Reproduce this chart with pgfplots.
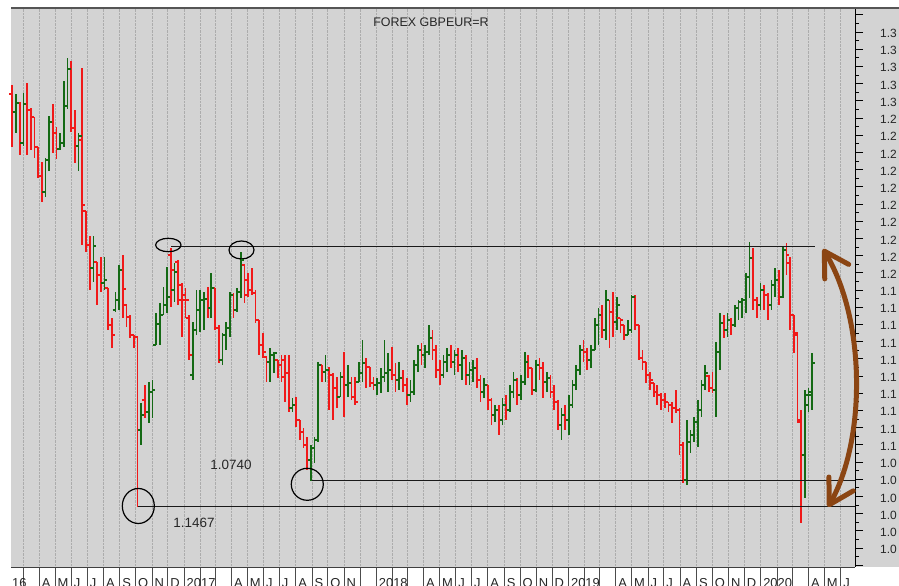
\documentclass[border=0pt]{standalone}
\usepackage{fontspec}
\setmainfont{Liberation Sans}
\usepackage{pgfplots}
\usepackage{pgfplotstable}
\pgfplotsset{compat=1.18}
\usetikzlibrary{arrows.meta,calc,backgrounds}
\definecolor{bgcol}{RGB}{211,211,211}
\definecolor{gridcol}{RGB}{172,172,172}
\definecolor{upcol}{RGB}{20,105,20}
\definecolor{dncol}{RGB}{240,25,25}
\definecolor{arrowcol}{RGB}{139,69,19}
\definecolor{toplinecol}{RGB}{85,85,85}
\pgfdeclareplotmark{ohlcL}{\pgfpathmoveto{\pgfqpoint{-3bp}{0bp}}\pgfpathlineto{\pgfqpoint{0bp}{0bp}}\pgfusepathqstroke}
\pgfdeclareplotmark{ohlcR}{\pgfpathmoveto{\pgfqpoint{0bp}{0bp}}\pgfpathlineto{\pgfqpoint{3bp}{0bp}}\pgfusepathqstroke}
% d = days since 10 Feb 2016 (weekly bars), o h l c
\pgfplotstableread{
d o h l c
0 1.3040 1.3092 1.2731 1.2935
7 1.2935 1.3040 1.2813 1.2987
14 1.2987 1.2993 1.2685 1.2755
21 1.2755 1.3045 1.2737 1.2981
28 1.2981 1.3104 1.2685 1.2946
35 1.2946 1.2958 1.2714 1.2906
42 1.2906 1.2906 1.2667 1.2731
49 1.2731 1.2731 1.2551 1.2563
56 1.2563 1.2644 1.2412 1.2470
63 1.2470 1.2667 1.2441 1.2656
70 1.2656 1.2912 1.2592 1.2877
77 1.2877 1.2981 1.2697 1.2813
84 1.2813 1.2848 1.2662 1.2720
91 1.2720 1.2813 1.2714 1.2755
98 1.2755 1.3115 1.2731 1.2970
105 1.2970 1.3249 1.2952 1.3185
112 1.3185 1.3231 1.2819 1.2842
119 1.2842 1.2946 1.2638 1.2737
126 1.2737 1.2813 1.2592 1.2795
133 1.2772 1.3191 1.2162 1.2394
140 1.2359 1.2359 1.2121 1.2162
147 1.2162 1.2214 1.1900 1.2028
154 1.2028 1.2214 1.1947 1.2156
161 1.2063 1.2063 1.1813 1.1987
168 1.1987 1.2092 1.1888 1.1941
175 1.1941 1.2092 1.1900 1.1958
182 1.1912 1.1912 1.1667 1.1696
189 1.1696 1.1737 1.1563 1.1638
196 1.1784 1.1888 1.1772 1.1842
203 1.1842 1.2045 1.1784 1.2016
210 1.2016 1.2103 1.1737 1.1906
217 1.1813 1.1813 1.1685 1.1743
224 1.1743 1.1755 1.1621 1.1638
231 1.1638 1.1638 1.1563 1.1627
238 1.1627 1.1627 1.0638 1.1086
245 1.1086 1.1243 1.0999 1.1173
252 1.1260 1.1348 1.1156 1.1191
259 1.1191 1.1365 1.1127 1.1307
266 1.1307 1.1377 1.1156 1.1319
273 1.1580 1.1766 1.1580 1.1702
280 1.1702 1.1824 1.1580 1.1755
287 1.1755 1.1917 1.1755 1.1813
294 1.1813 1.2034 1.1766 1.1859
301 1.2103 1.2144 1.1801 1.2016
308 1.1900 1.2057 1.1830 1.2005
315 1.2063 1.2074 1.1813 1.1842
322 1.1929 1.1941 1.1627 1.1842
329 1.1871 1.1912 1.1737 1.1842
336 1.1737 1.1755 1.1493 1.1522
343 1.1406 1.1714 1.1377 1.1667
350 1.1667 1.1900 1.1638 1.1784
357 1.1784 1.1900 1.1656 1.1842
364 1.1842 1.1888 1.1667 1.1848
371 1.1848 1.1917 1.1737 1.1795
378 1.1795 1.1999 1.1737 1.1912
385 1.1912 1.1912 1.1667 1.1679
392 1.1679 1.1696 1.1476 1.1493
399 1.1493 1.1650 1.1464 1.1638
406 1.1638 1.1714 1.1551 1.1679
413 1.1679 1.1888 1.1627 1.1871
420 1.1871 1.1883 1.1737 1.1784
427 1.1784 1.1912 1.1772 1.1888
434 1.1888 1.2121 1.1853 1.2074
441 1.2045 1.2045 1.1824 1.1871
448 1.1958 1.1999 1.1859 1.1900
455 1.1900 1.2028 1.1871 1.1883
462 1.1883 1.1900 1.1708 1.1726
469 1.1726 1.1726 1.1522 1.1580
476 1.1580 1.1650 1.1505 1.1540
483 1.1510 1.1510 1.1365 1.1481
490 1.1481 1.1563 1.1365 1.1522
497 1.1522 1.1540 1.1417 1.1534
504 1.1493 1.1493 1.1388 1.1464
511 1.1464 1.1522 1.1365 1.1394
518 1.1493 1.1522 1.1249 1.1417
525 1.1417 1.1522 1.1191 1.1214
532 1.1214 1.1272 1.1191 1.1231
539 1.1231 1.1278 1.1103 1.1144
546 1.1144 1.1144 1.1028 1.1074
553 1.1074 1.1098 1.0981 1.0999
560 1.0999 1.1045 1.0853 1.0912
567 1.0912 1.0999 1.0790 1.0981
574 1.0981 1.1045 1.0894 1.1028
581 1.1028 1.1481 1.1016 1.1464
588 1.1464 1.1464 1.1365 1.1423
595 1.1423 1.1522 1.1365 1.1435
602 1.1435 1.1452 1.1202 1.1406
609 1.1406 1.1417 1.1144 1.1330
616 1.1330 1.1394 1.1214 1.1278
623 1.1278 1.1423 1.1278 1.1394
630 1.1394 1.1540 1.1162 1.1348
637 1.1348 1.1464 1.1278 1.1359
644 1.1359 1.1394 1.1260 1.1278
651 1.1278 1.1394 1.1231 1.1249
658 1.1365 1.1481 1.1365 1.1417
665 1.1417 1.1609 1.1365 1.1476
672 1.1476 1.1505 1.1330 1.1452
679 1.1452 1.1452 1.1336 1.1359
686 1.1359 1.1394 1.1319 1.1348
693 1.1348 1.1388 1.1289 1.1359
700 1.1359 1.1446 1.1301 1.1394
707 1.1394 1.1609 1.1365 1.1417
714 1.1417 1.1534 1.1307 1.1435
721 1.1435 1.1569 1.1377 1.1406
728 1.1406 1.1476 1.1307 1.1377
735 1.1377 1.1481 1.1319 1.1388
742 1.1388 1.1435 1.1307 1.1348
749 1.1348 1.1388 1.1231 1.1289
756 1.1289 1.1377 1.1249 1.1307
763 1.1307 1.1493 1.1289 1.1464
770 1.1464 1.1580 1.1423 1.1551
777 1.1551 1.1592 1.1464 1.1522
784 1.1522 1.1580 1.1446 1.1540
791 1.1540 1.1696 1.1522 1.1621
798 1.1621 1.1667 1.1493 1.1551
805 1.1551 1.1580 1.1388 1.1435
812 1.1435 1.1493 1.1348 1.1406
819 1.1406 1.1522 1.1388 1.1481
826 1.1481 1.1563 1.1423 1.1522
833 1.1522 1.1580 1.1446 1.1481
840 1.1481 1.1551 1.1406 1.1522
847 1.1522 1.1563 1.1423 1.1464
854 1.1464 1.1551 1.1377 1.1505
861 1.1505 1.1522 1.1348 1.1406
868 1.1406 1.1481 1.1348 1.1435
875 1.1435 1.1493 1.1365 1.1446
882 1.1446 1.1505 1.1330 1.1377
889 1.1377 1.1406 1.1249 1.1307
896 1.1307 1.1388 1.1272 1.1348
903 1.1348 1.1348 1.1202 1.1260
910 1.1260 1.1272 1.1115 1.1173
917 1.1173 1.1231 1.1133 1.1202
924 1.1202 1.1231 1.1057 1.1144
931 1.1144 1.1272 1.1115 1.1231
938 1.1231 1.1289 1.1144 1.1202
945 1.1202 1.1348 1.1191 1.1307
952 1.1307 1.1423 1.1272 1.1377
959 1.1377 1.1388 1.1231 1.1289
966 1.1289 1.1406 1.1260 1.1365
973 1.1365 1.1540 1.1348 1.1481
980 1.1481 1.1522 1.1388 1.1446
987 1.1446 1.1446 1.1289 1.1319
994 1.1319 1.1493 1.1307 1.1464
1001 1.1464 1.1505 1.1377 1.1446
1008 1.1446 1.1481 1.1272 1.1365
1015 1.1365 1.1423 1.1307 1.1388
1022 1.1388 1.1406 1.1272 1.1307
1029 1.1307 1.1348 1.1202 1.1249
1036 1.1249 1.1260 1.1086 1.1115
1043 1.1115 1.1214 1.1028 1.1173
1050 1.1173 1.1231 1.1086 1.1144
1057 1.1144 1.1289 1.1057 1.1231
1064 1.1231 1.1377 1.1214 1.1348
1071 1.1348 1.1464 1.1319 1.1435
1078 1.1435 1.1580 1.1406 1.1551
1085 1.1551 1.1609 1.1481 1.1540
1092 1.1540 1.1563 1.1435 1.1493
1099 1.1493 1.1580 1.1446 1.1551
1106 1.1551 1.1737 1.1551 1.1696
1113 1.1696 1.1795 1.1580 1.1755
1120 1.1755 1.1813 1.1621 1.1667
1127 1.1667 1.1900 1.1609 1.1842
1134 1.1842 1.1842 1.1563 1.1772
1141 1.1772 1.1888 1.1627 1.1714
1148 1.1714 1.1859 1.1667 1.1813
1155 1.1737 1.1737 1.1650 1.1726
1162 1.1696 1.1696 1.1609 1.1638
1169 1.1638 1.1726 1.1638 1.1667
1176 1.1667 1.1871 1.1650 1.1859
1183 1.1859 1.1871 1.1667 1.1696
1190 1.1696 1.1696 1.1493 1.1505
1197 1.1505 1.1551 1.1435 1.1481
1204 1.1481 1.1481 1.1359 1.1406
1211 1.1406 1.1423 1.1319 1.1377
1218 1.1359 1.1359 1.1278 1.1307
1225 1.1307 1.1348 1.1231 1.1289
1232 1.1289 1.1301 1.1202 1.1260
1239 1.1260 1.1301 1.1214 1.1249
1246 1.1249 1.1249 1.1191 1.1231
1253 1.1231 1.1249 1.1127 1.1214
1260 1.1214 1.1319 1.1185 1.1202
1267 1.1202 1.1214 1.0941 1.0999
1274 1.0999 1.1016 1.0778 1.0795
1281 1.0795 1.1144 1.0766 1.1016
1288 1.1016 1.1086 1.0952 1.1057
1295 1.1057 1.1162 1.1016 1.1133
1302 1.1133 1.1260 1.0987 1.1202
1309 1.1202 1.1377 1.1162 1.1348
1316 1.1348 1.1464 1.1319 1.1417
1323 1.1400 1.1406 1.1307 1.1330
1330 1.1330 1.1423 1.1301 1.1319
1337 1.1319 1.1598 1.1162 1.1540
1344 1.1540 1.1766 1.1435 1.1708
1351 1.1708 1.1755 1.1621 1.1667
1358 1.1667 1.1766 1.1627 1.1726
1365 1.1726 1.1737 1.1638 1.1696
1372 1.1696 1.1813 1.1685 1.1795
1379 1.1795 1.1842 1.1726 1.1830
1386 1.1830 1.1853 1.1737 1.1842
1393 1.1842 1.1999 1.1766 1.1976
1400 1.1976 1.2179 1.1853 1.2086
1407 1.2086 1.2144 1.1784 1.1842
1414 1.1842 1.1859 1.1737 1.1813
1421 1.1813 1.1941 1.1784 1.1900
1428 1.1900 1.1929 1.1784 1.1871
1435 1.1871 1.1883 1.1726 1.1813
1442 1.1813 1.1958 1.1784 1.1929
1449 1.1929 1.2028 1.1859 1.1958
1456 1.1958 1.2016 1.1813 1.1859
1463 1.1859 1.2150 1.1853 1.2132
1470 1.2132 1.2173 1.1987 1.2103
1477 1.2057 1.2092 1.1667 1.1755
1484 1.1755 1.1755 1.1534 1.1638
1491 1.1650 1.1656 1.1127 1.1144
1498 1.1133 1.1202 1.0545 1.0941
1505 1.0941 1.1319 1.0691 1.1289
1512 1.1231 1.1330 1.1191 1.1307
1519 1.1289 1.1534 1.1202 1.1476
}\ohlc
\begin{document}
\begin{tikzpicture}[x=1bp,y=1bp]
\begin{axis}[
  width=844bp, height=559bp, scale only axis,
  xmin=-2.47, xmax=1600.4, ymin=1.02895, ymax=1.35395,
  axis background/.style={fill=bgcol},
  axis x line*=bottom, axis y line*=right,
  x axis line style={draw=black!75, line width=0.8bp},
  y axis line style={draw=black, line width=1bp},
  clip=false,
  tick align=outside,
  xtick={20,51,81,112,142,173,204,234,265,295,326,357,385,416,446,477,507,538,569,599,630,660,691,722,750,781,811,842,872,903,934,964,995,1025,1056,1087,1115,1146,1176,1207,1237,1268,1299,1329,1360,1390,1421,1452,1481,1512,1542,1573},
  xticklabels={,A,M,J,J,A,S,O,N,D,2017,,,A,M,J,J,A,S,O,N,,2018,,,A,M,J,J,A,S,O,N,D,2019,,,A,M,J,J,A,S,O,N,D,2020,,,A,M,J},
  xtick style={draw=black!70, line width=0.6bp, /pgfplots/major tick length=20bp},
  xmajorgrids, grid style={densely dotted, gridcol, line width=0.6bp},
  xticklabel style={anchor=base west, inner sep=0pt, xshift=2.5bp, yshift=-12.5bp, font=\fontsize{13}{13}\selectfont, text=black!85},
  ytick={1.03,1.04,1.05,1.06,1.07,1.08,1.09,1.10,1.11,1.12,1.13,1.14,1.15,1.16,1.17,1.18,1.19,1.20,1.21,1.22,1.23,1.24,1.25,1.26,1.27,1.28,1.29,1.30,1.31,1.32,1.33,1.34,1.35},
  yticklabels={,1.0,1.0,1.0,1.0,1.0,1.0,1.1,1.1,1.1,1.1,1.1,1.1,1.1,1.1,1.1,1.1,1.2,1.2,1.2,1.2,1.2,1.2,1.2,1.2,1.2,1.2,1.3,1.3,1.3,1.3,1.3,},
  minor y tick num=1,
  ytick style={draw=black, line width=0.8bp},
  major tick length=8bp, minor tick length=4bp,
  yticklabel style={anchor=west, inner sep=0pt, xshift=17bp, yshift=-1.5bp, font=\fontsize{12}{12}\selectfont, text=black!85},
]
% down bars
\addplot[dncol, line width=1.6bp, only marks, mark=ohlcR, mark options={line width=1.4bp},
  error bars/.cd, y dir=both, y explicit, error mark=none, error bar style={line width=1.7bp, dncol}]
  table[x=d, y expr={\thisrow{c}<\thisrow{o} ? \thisrow{c} : nan},
        y error plus expr=\thisrow{h}-\thisrow{c}, y error minus expr=\thisrow{c}-\thisrow{l}] {\ohlc};
\addplot[dncol, only marks, mark=ohlcL, mark options={line width=1.4bp}]
  table[x=d, y expr={\thisrow{c}<\thisrow{o} ? \thisrow{o} : nan}] {\ohlc};
% up bars
\addplot[upcol, line width=1.6bp, only marks, mark=ohlcR, mark options={line width=1.4bp},
  error bars/.cd, y dir=both, y explicit, error mark=none, error bar style={line width=1.7bp, upcol}]
  table[x=d, y expr={\thisrow{c}<\thisrow{o} ? nan : \thisrow{c}},
        y error plus expr=\thisrow{h}-\thisrow{c}, y error minus expr=\thisrow{c}-\thisrow{l}] {\ohlc};
\addplot[upcol, only marks, mark=ohlcL, mark options={line width=1.4bp}]
  table[x=d, y expr={\thisrow{c}<\thisrow{o} ? nan : \thisrow{o}}] {\ohlc};
% annotations
\draw[black!90, line width=1bp] (axis cs:301.4,1.2152) -- (axis cs:1524.4,1.2152);
\draw[black!90, line width=1bp] (axis cs:568.6,1.0793) -- (axis cs:1600.4,1.0793);
\draw[black!90, line width=1bp] (axis cs:239.3,1.0643) -- (axis cs:1600.4,1.0643);
\draw[black, line width=1.2bp] (axis cs:296.3,1.21616) ellipse [x radius=12.7bp, y radius=6.7bp];
\draw[black, line width=1.2bp] (axis cs:435.3,1.21326) ellipse [x radius=12.5bp, y radius=9bp];
\draw[black, line width=1.2bp] (axis cs:560.2,1.07703) ellipse [x radius=16bp, y radius=16bp];
\draw[black, line width=1.2bp] (axis cs:239.3,1.06442) ellipse [x radius=16bp, y radius=17.5bp];
\node[font=\fontsize{13.5}{13.5}\selectfont, text=black!85] at (axis cs:415.3,1.08855) {1.0740};
\node[font=\fontsize{13.5}{13.5}\selectfont, text=black!85] at (axis cs:345.1,1.05453) {1.1467};
\node[font=\fontsize{12.5}{12.5}\selectfont, text=black!85] at (axis cs:795.1,1.34581) {FOREX GBPEUR=R};
\node[anchor=base west, inner sep=0pt, font=\fontsize{13}{13}\selectfont, text=black!85] at (axis cs:-0.6,1.02895) [yshift=-20.5bp] {16};
\draw[arrowcol, line width=5bp, line cap=round,
  {Straight Barb[length=24bp,width=28bp,round]}-{Straight Barb[length=24bp,width=28bp,round]}]
  (axis cs:1539.6,1.21384) .. controls (axis cs:1621.3,1.17256) and (axis cs:1621.3,1.10279) .. (axis cs:1549.1,1.06384);
\coordinate (SW) at (rel axis cs:0,0);
\end{axis}
\pgfresetboundingbox
\useasboundingbox ($(SW)+(-11,-19)$) rectangle ($(SW)+(888,567)$);
\begin{scope}[on background layer]
\fill[white] ($(SW)+(-11,-19)$) rectangle ($(SW)+(888,567)$);
\fill[bgcol] ($(SW)+(0,0)$) rectangle ($(SW)+(888,559)$);
\end{scope}
\draw[toplinecol, line width=1.8bp] ($(SW)+(0,559)$) -- ($(SW)+(888,559)$);
\end{tikzpicture}
\end{document}
